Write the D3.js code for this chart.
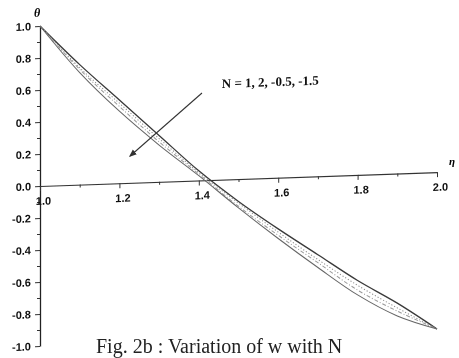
<!DOCTYPE html>
<html>
<head>
<meta charset="utf-8">
<script src="https://cdn.jsdelivr.net/npm/d3@7/dist/d3.min.js"></script>
<style>
body { margin: 0; background: #fff; }
.tick text { font-family: "Liberation Sans", Arial, sans-serif; font-weight: bold; font-size: 11px; fill: #111; }
</style>
</head>
<body>
<div id="chart"></div>
<script>
// values (theta vs x, four values of N)
var xVals    = [1.0, 1.1, 1.2, 1.3, 1.4, 1.5, 1.6, 1.7, 1.8, 1.9, 2.0];
var thetaN1  = [1.00, 0.75, 0.52, 0.29, 0.06, -0.14, -0.32, -0.49, -0.66, -0.81, -0.98];
var thetaN2  = [1.00, 0.73, 0.50, 0.27, 0.05, -0.15, -0.34, -0.52, -0.69, -0.84, -0.98];
var thetaNm05 = [1.00, 0.72, 0.48, 0.25, 0.04, -0.17, -0.36, -0.54, -0.72, -0.86, -0.98];
var thetaNm15 = [1.00, 0.70, 0.45, 0.23, 0.03, -0.18, -0.38, -0.57, -0.75, -0.89, -0.98];

var xTicks = [1.0, 1.2, 1.4, 1.6, 1.8, 2.0];
var xMinor = [1.1, 1.3, 1.5, 1.7, 1.9];
var yTicks = [1.0, 0.8, 0.6, 0.4, 0.2, 0.0, -0.2, -0.4, -0.6, -0.8, -1.0];
var yMinor = [0.9, 0.7, 0.5, 0.3, 0.1, -0.1, -0.3, -0.5, -0.7, -0.9];

var labelText = "N = 1, 2, -0.5, -1.5";
var arrowFrom = [1.408, 0.546];
var arrowTo   = [1.227, 0.168];
var labelPos  = [1.458, 0.573];
var caption = "Fig. 2b : Variation of w with N";

var W = 459, H = 358;
var svg = d3.select("#chart").append("svg")
  .attr("width", W)
  .attr("height", H);

var defs = svg.append("defs");
defs.append("filter").attr("id", "scan")
  .append("feGaussianBlur").attr("stdDeviation", 0.4);
defs.append("marker")
  .attr("id", "head")
  .attr("viewBox", "0 0 10 10")
  .attr("refX", 8).attr("refY", 5)
  .attr("markerWidth", 7).attr("markerHeight", 7)
  .attr("orient", "auto")
  .append("path")
  .attr("d", "M0,1 L10,5 L0,9 Z")
  .attr("fill", "#333");

var root = svg.append("g").attr("filter", "url(#scan)");

// the scan is slightly sheared, so the plot group is skewed a little
var g = root.append("g")
  .attr("transform", "translate(40,186) skewY(-2)");

var x = d3.scaleLinear().domain([1, 2]).range([0, 397]);
var y = d3.scaleLinear().domain([-1, 1]).range([160, -160]);

// y axis
g.append("g")
  .call(d3.axisLeft(y).tickValues(yMinor).tickSize(3).tickFormat(""))
  .call(function(a){ a.select(".domain").remove(); });
g.append("g")
  .call(d3.axisLeft(y).tickValues(yTicks).tickSize(5).tickSizeOuter(0)
    .tickFormat(function(d){ return d.toFixed(1); }))
  .call(function(a){ a.select(".domain").attr("stroke", "#222").attr("stroke-width", 1.3); })
  .selectAll(".tick text").attr("x", -9);

// x axis along theta = 0
var xa = g.append("g").attr("transform", "translate(0," + y(0) + ")");
xa.call(d3.axisBottom(x).tickValues(xMinor).tickSize(3).tickFormat(""))
  .call(function(a){ a.select(".domain").remove(); });
var xb = g.append("g").attr("transform", "translate(0," + y(0) + ")");
xb.call(d3.axisBottom(x).tickValues(xTicks).tickSize(5).tickSizeOuter(0)
    .tickFormat(function(d){ return d.toFixed(1); }))
  .call(function(a){ a.select(".domain").attr("stroke", "#333").attr("stroke-width", 1.2); })
  .selectAll(".tick text").attr("y", 11).attr("dx", 3);

g.selectAll(".tick line").attr("stroke", "#333");

// curves
var series = [
  {vals: thetaN1,   color: "#3a3a3a", w: 1.3, dash: null},
  {vals: thetaN2,   color: "#8a8a8a", w: 1.0, dash: "1.2,2"},
  {vals: thetaNm05, color: "#9a9a9a", w: 1.0, dash: "4,2,1,2"},
  {vals: thetaNm15, color: "#666",    w: 1.0, dash: null}
];

var line = d3.line()
  .x(function(d){ return x(d[0]); })
  .y(function(d){ return y(d[1]); })
  .curve(d3.curveCatmullRom);

g.selectAll("path.curve")
  .data(series)
  .enter()
  .append("path")
    .attr("class", "curve")
    .attr("d", function(s){ return line(xVals.map(function(v, i){ return [v, s.vals[i]]; })); })
    .attr("fill", "none")
    .attr("stroke", function(s){ return s.color; })
    .attr("stroke-width", function(s){ return s.w; })
    .attr("stroke-dasharray", function(s){ return s.dash; });

// annotation arrow + label
g.append("line")
  .attr("x1", x(arrowFrom[0])).attr("y1", y(arrowFrom[1]))
  .attr("x2", x(arrowTo[0])).attr("y2", y(arrowTo[1]))
  .attr("stroke", "#333")
  .attr("stroke-width", 1.1)
  .attr("marker-end", "url(#head)");

g.append("text")
  .attr("x", x(labelPos[0])).attr("y", y(labelPos[1]))
  .attr("font-family", "'Liberation Serif', 'Times New Roman', serif")
  .attr("font-weight", "bold")
  .attr("font-size", 13)
  .attr("fill", "#111")
  .text(labelText);

// axis symbols
root.append("text")
  .attr("x", 34).attr("y", 17)
  .attr("font-family", "'Liberation Serif', serif")
  .attr("font-style", "italic").attr("font-weight", "bold")
  .attr("font-size", 12)
  .text("θ");
root.append("text")
  .attr("x", 449).attr("y", 165)
  .attr("font-family", "'Liberation Serif', serif")
  .attr("font-style", "italic").attr("font-weight", "bold")
  .attr("font-size", 11)
  .text("η");

// caption at the foot of the figure
root.append("text")
  .attr("x", 96).attr("y", 353)
  .attr("font-family", "'Liberation Serif', 'Times New Roman', serif")
  .attr("font-size", 20)
  .attr("fill", "#222")
  .text(caption);
</script>
</body>
</html>
